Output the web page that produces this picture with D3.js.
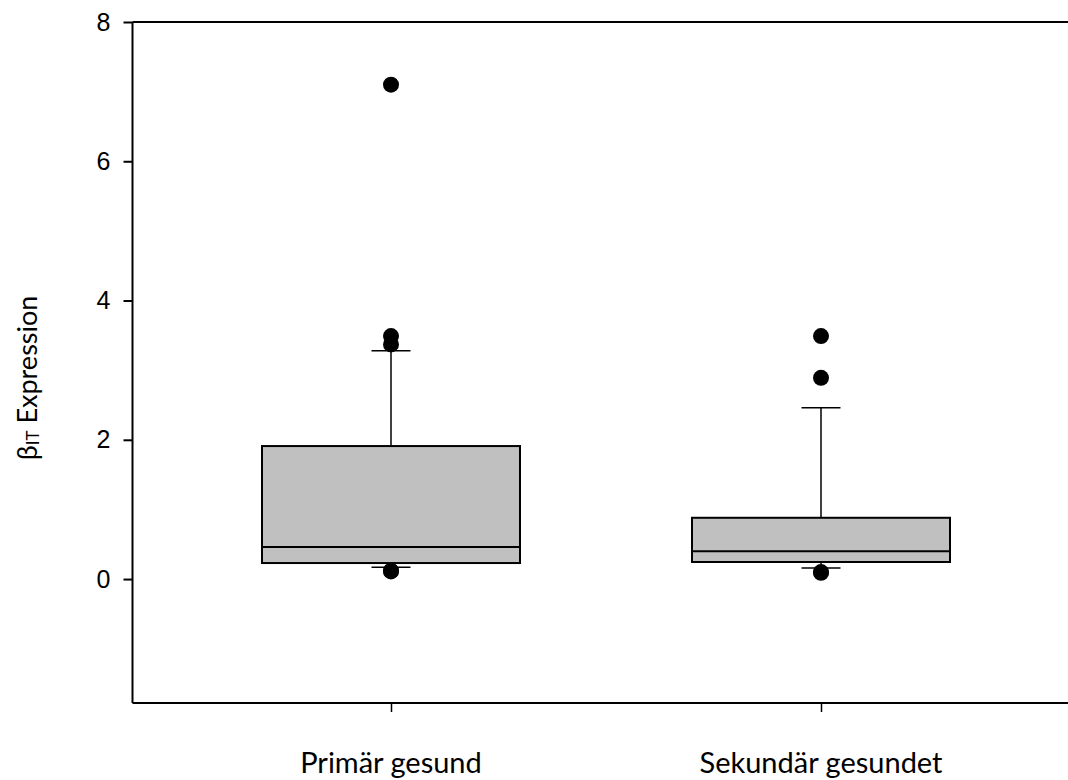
<!DOCTYPE html>
<html>
<head>
<meta charset="utf-8">
<script src="https://cdn.jsdelivr.net/npm/d3@7"></script>
<style>
  body { margin: 0; background: #fff; }
</style>
</head>
<body>
<script>
var w = 1068;
var h = 780;

// data
var groups = ["Primär gesund", "Sekundär gesundet"];
var q1 = [0.23, 0.245];
var medians = [0.46, 0.40];
var q3 = [1.91, 0.88];
var whiskerLow = [0.17, 0.16];
var whiskerHigh = [3.28, 2.46];
var outliers = [
    [7.10, 3.49, 3.37, 0.12, 0.11],
    [3.49, 2.89, 0.09, 0.10]
];
var yTicks = [0, 2, 4, 6, 8];

var left = 132.5;
var topY = 22;
var bottomY = 703;

var yScale = d3.scaleLinear()
    .domain([-1.78, 8])
    .range([bottomY, topY]);

var xScale = d3.scalePoint()
    .domain(groups)
    .range([391, 821]);

var boxW = 258;
var capW = 39;

var svg = d3.select("body")
    .append("svg")
    .attr("width", w)
    .attr("height", h);

var dataset = groups.map((g, i) => ({
    name: g,
    q1: q1[i],
    med: medians[i],
    q3: q3[i],
    lo: whiskerLow[i],
    hi: whiskerHigh[i],
    out: outliers[i]
}));

// whiskers
svg.selectAll(".whisk")
    .data(dataset)
    .enter()
    .append("line")
    .attr("x1", d => xScale(d.name))
    .attr("x2", d => xScale(d.name))
    .attr("y1", d => yScale(d.q3))
    .attr("y2", d => yScale(d.hi))
    .attr("stroke", "black")
    .attr("stroke-width", 1.5);

svg.selectAll(".whiskLo")
    .data(dataset)
    .enter()
    .append("line")
    .attr("x1", d => xScale(d.name))
    .attr("x2", d => xScale(d.name))
    .attr("y1", d => yScale(d.q1))
    .attr("y2", d => yScale(d.lo))
    .attr("stroke", "black")
    .attr("stroke-width", 1.5);

// caps
["hi", "lo"].forEach(k => {
    svg.selectAll(".cap-" + k)
        .data(dataset)
        .enter()
        .append("line")
        .attr("x1", d => xScale(d.name) - capW / 2)
        .attr("x2", d => xScale(d.name) + capW / 2)
        .attr("y1", d => yScale(d[k]))
        .attr("y2", d => yScale(d[k]))
        .attr("stroke", "black")
        .attr("stroke-width", 1.5);
});

// boxes
svg.selectAll(".box")
    .data(dataset)
    .enter()
    .append("rect")
    .attr("x", d => xScale(d.name) - boxW / 2)
    .attr("width", boxW)
    .attr("y", d => yScale(d.q3))
    .attr("height", d => yScale(d.q1) - yScale(d.q3))
    .attr("fill", "#c0c0c0")
    .attr("stroke", "black")
    .attr("stroke-width", 2);

svg.selectAll(".med")
    .data(dataset)
    .enter()
    .append("line")
    .attr("x1", d => xScale(d.name) - boxW / 2)
    .attr("x2", d => xScale(d.name) + boxW / 2)
    .attr("y1", d => yScale(d.med))
    .attr("y2", d => yScale(d.med))
    .attr("stroke", "black")
    .attr("stroke-width", 2);

// outliers
var pts = [];
dataset.forEach(d => d.out.forEach(v => pts.push({ name: d.name, v: v })));
svg.selectAll("circle")
    .data(pts)
    .enter()
    .append("circle")
    .attr("cx", d => xScale(d.name))
    .attr("cy", d => yScale(d.v))
    .attr("r", 8)
    .attr("fill", "black");

// axes
var yAxis = d3.axisLeft(yScale)
    .tickValues(yTicks)
    .tickSize(9)
    .tickPadding(13)
    .tickFormat(d3.format("d"));

var gy = svg.append("g")
    .attr("transform", `translate(${left},0)`)
    .call(yAxis);
gy.attr("font-size", 25).attr("font-family", "Liberation Sans, Arial, sans-serif");
gy.select(".domain").attr("d", `M0,${topY}V${bottomY}`).attr("stroke-width", 2);
gy.selectAll(".tick line").attr("stroke-width", 2);
gy.selectAll("text").attr("fill", "black");

var xAxis = d3.axisBottom(xScale)
    .tickSize(9)
    .tickFormat("");

var gx = svg.append("g")
    .attr("transform", `translate(0,${bottomY})`)
    .call(xAxis);
gx.select(".domain").attr("d", `M${left},0H${w}`).attr("stroke-width", 2);
gx.selectAll(".tick line").attr("stroke-width", 1.5);

// top frame line
svg.append("line")
    .attr("x1", left)
    .attr("x2", w)
    .attr("y1", topY)
    .attr("y2", topY)
    .attr("stroke", "black")
    .attr("stroke-width", 2);

// category labels
svg.selectAll(".catlabel")
    .data(groups)
    .enter()
    .append("text")
    .attr("x", d => xScale(d))
    .attr("y", 773)
    .attr("text-anchor", "middle")
    .attr("font-family", "Lato, Carlito, sans-serif")
    .attr("font-size", 29)
    .text(d => d);

// y axis title
var yt = svg.append("text")
    .attr("transform", "translate(37,378) rotate(-90)")
    .attr("text-anchor", "middle")
    .attr("font-family", "Lato, Carlito, sans-serif")
    .attr("font-size", 27);
yt.append("tspan").text("β");
yt.append("tspan").attr("font-size", 17).attr("dy", 2).text("IT");
yt.append("tspan").attr("dy", -2).text(" Expression");
</script>
</body>
</html>
